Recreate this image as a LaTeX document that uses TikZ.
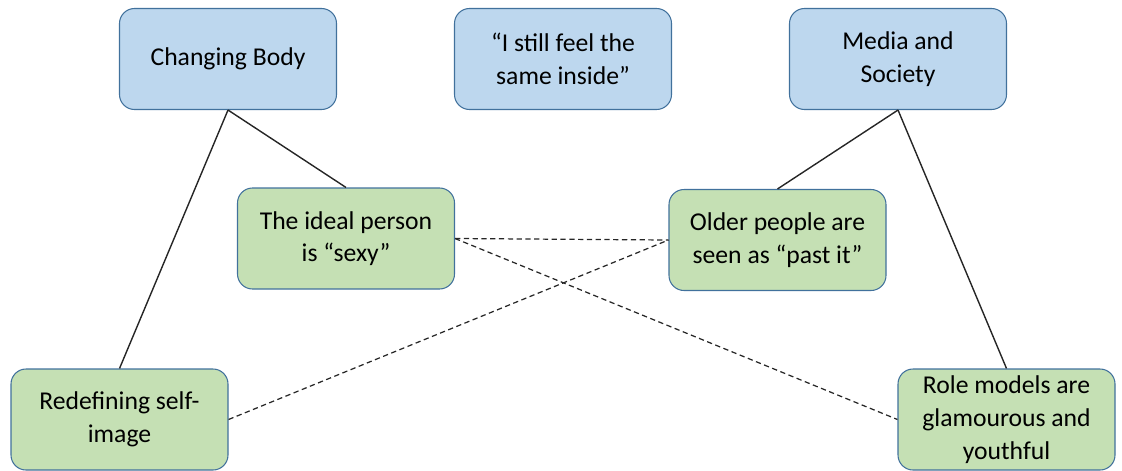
\documentclass[tikz,border=0pt]{standalone}
\usepackage{fontspec}
\setmainfont{Carlito}
\definecolor{skyblue}{RGB}{189,215,238}
\definecolor{sage}{RGB}{197,224,180}
\definecolor{edge}{RGB}{65,113,156}
\usetikzlibrary{positioning}
\tikzstyle{theme} = [rectangle, rounded corners=0.3cm, minimum width=4.34cm, minimum height=2.02cm, align=center, draw=edge, line width=0.6pt, fill=skyblue, font=\fontsize{14.6}{18.6}\selectfont]
\tikzstyle{idea} = [theme, fill=sage]
\tikzstyle{link} = [line width=0.8pt, draw=black!85]
\tikzstyle{cross} = [line width=0.7pt, draw=black!85, dash pattern=on 3pt off 2pt]

\begin{document}
\begin{tikzpicture}[node distance=6.7cm]
        \useasboundingbox (0,0) rectangle (22.44,9.4);
        \node (body) [theme] at (4.56,8.22) {Changing Body};
        \node (inside) [theme, right of=body] {``I still feel the\\same inside''};
        \node (media) [theme, right of=inside] {Media and\\Society};

        \node (ideal) [idea, below of=body, node distance=3.59cm, xshift=2.36cm] {The ideal person\\is ``sexy''};
        \node (older) [idea, below of=media, node distance=3.62cm, xshift=-2.41cm] {Older people are\\seen as ``past it''};
        \node (selfimg) [idea, below of=body, node distance=7.21cm, xshift=-2.17cm] {Redefining self-\\image};
        \node (rolemod) [idea, below of=media, node distance=7.21cm, xshift=2.17cm] {Role models are\\glamourous and\\youthful};

        \draw [link] (body.south) -- (ideal.north);
        \draw [link] (body.south) -- (selfimg.north);
        \draw [link] (media.south) -- (older.north);
        \draw [link] (media.south) -- (rolemod.north);
        \draw [cross] (ideal.east) -- (older.west);
        \draw [cross] (ideal.east) -- (rolemod.west);
        \draw [cross] (selfimg.east) -- (older.west);
    \end{tikzpicture}
\end{document}
